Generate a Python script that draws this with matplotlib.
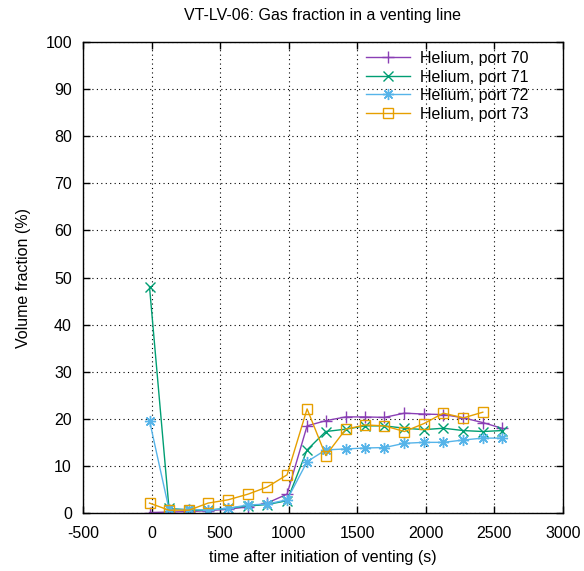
import numpy as np
import matplotlib
matplotlib.use("Agg")
import matplotlib.pyplot as plt

plt.rcParams['font.family'] = ['Liberation Sans', 'DejaVu Sans']
plt.rcParams['axes.unicode_minus'] = False

# time after initiation of venting (s)
t = [-15, 127, 273, 412, 558, 703, 842, 988, 1134, 1270,
     1416, 1557, 1698, 1844, 1987, 2128, 2274, 2415, 2554]

port70 = [0.1, 0.2, 0.3, 0.5, 0.8, 1.3, 2.1, 4.0, 18.5, 19.6,
          20.4, 20.4, 20.3, 21.2, 21.0, 20.9, 20.2, 19.2, 18.0]
port71 = [48.0, 1.0, 0.6, 0.6, 1.0, 1.5, 1.8, 2.6, 13.4, 17.3,
          17.8, 18.5, 18.5, 18.0, 17.7, 18.0, 17.5, 17.3, 17.5]
port72 = [19.6, 0.8, 0.8, 0.6, 1.0, 1.7, 1.9, 2.8, 10.9, 13.4,
          13.6, 13.8, 13.9, 14.8, 15.0, 15.0, 15.5, 15.9, 15.9]
port73 = [2.1, 0.6, 0.6, 2.1, 2.8, 4.0, 5.5, 8.1, 22.1, 12.2,
          17.8, 18.7, 18.5, 17.3, 19.0, 21.2, 20.2, 21.4]

labels = ['Helium, port 70', 'Helium, port 71', 'Helium, port 72', 'Helium, port 73']
colors = ['#8a3fb5', '#009e73', '#56b4e9', '#e69f00']

fs = 11.5

fig = plt.figure(figsize=(5.84, 5.71), dpi=100)
ax = fig.add_axes([83/584, 1-513/571, 480/584, 471/571])

ax.plot(t, port70, color=colors[0], lw=1, marker='+', ms=8, mew=1, label=labels[0])
ax.plot(t, port71, color=colors[1], lw=1, marker='x', ms=6.5, mew=1, label=labels[1])
ax.plot(t, port72, color=colors[2], lw=1, marker=(8, 2, 0), ms=8, mew=1, label=labels[2])
ax.plot(t[:len(port73)], port73, color=colors[3], lw=1, marker='s', ms=7.5,
        mfc='none', mew=1, label=labels[3])

ax.set_xlim(-500, 3000)
ax.set_ylim(0, 100)
ax.set_xticks(np.arange(-500, 3001, 500))
ax.set_yticks(np.arange(0, 101, 10))
ax.grid(True, color='black', linestyle=(0, (1, 3)), lw=0.8)
ax.tick_params(direction='in', top=True, right=True, length=5, width=1, labelsize=fs)
ax.tick_params(axis='x', pad=9)
ax.tick_params(axis='y', pad=8)
for s in ax.spines.values():
    s.set_linewidth(1)

ax.set_title('VT-LV-06: Gas fraction in a venting line', fontsize=fs, pad=16)
ax.set_xlabel('time after initiation of venting (s)', fontsize=fs, labelpad=7)
ax.set_ylabel('Volume fraction (%)', fontsize=fs, labelpad=10)

leg = ax.legend(loc='upper left', bbox_to_anchor=((366-83)/480, (513-51)/471),
                frameon=False, fontsize=fs, handlelength=2.75, handletextpad=0.6,
                labelspacing=0.22, borderpad=0, borderaxespad=0)

fig.savefig('out.png', dpi=100)
